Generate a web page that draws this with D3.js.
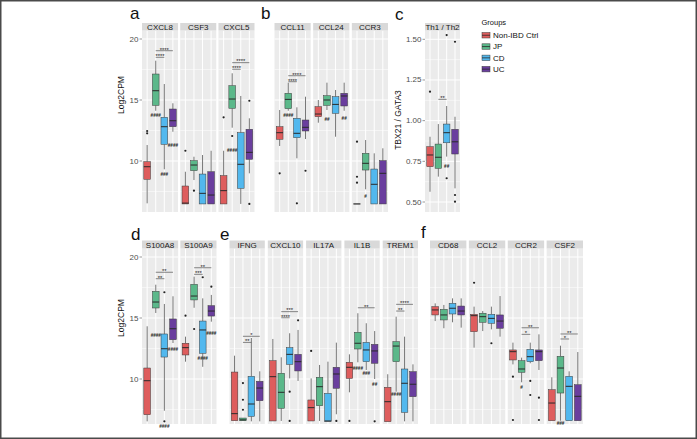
<!DOCTYPE html>
<html><head><meta charset="utf-8">
<script src="https://cdn.jsdelivr.net/npm/d3@7"></script>
<style>
body{margin:0;background:#fff}
svg{display:block}
text{font-family:"Liberation Sans",Arial,Helvetica,sans-serif}
</style>
</head><body>
<svg id="chart" width="697" height="439"></svg>
<script>
// ---------- groups ----------
const groupKeys = ["Ctrl","JP","CD","UC"];
const groupLabels = ["Non-IBD Ctrl","JP","CD","UC"];
const groupColors = ["#DE5D5D","#5BB88A","#52B8EE","#6A3E9E"];

// ---------- tick labels ----------
const ticksLog = [10,15,20];
const minorLog = [7.5,12.5,17.5];
const ticksRatio = [0.50,0.75,1.00,1.25,1.50];
const minorRatio = [0.625,0.875,1.125,1.375];

// ---------- panel a ----------
const genesA = ["CXCL8","CSF3","CXCL5"];
// [gene, group, lowerWhisker, q1, median, q3, upperWhisker]
const boxesA = [
 ["CXCL8","Ctrl",6.53,8.50,9.53,9.94,11.31],
 ["CXCL8","JP",14.12,14.56,15.76,17.13,18.22],
 ["CXCL8","CD",9.32,11.37,12.81,13.58,16.31],
 ["CXCL8","UC",12.40,12.81,13.30,14.26,14.73],
 ["CSF3","Ctrl",6.48,6.48,6.55,7.95,9.12],
 ["CSF3","JP",8.44,9.21,9.67,10.03,10.35],
 ["CSF3","CD",6.48,6.48,7.35,8.93,10.49],
 ["CSF3","UC",6.48,6.48,7.21,9.12,10.84],
 ["CXCL5","Ctrl",6.48,6.48,7.57,8.80,10.84],
 ["CXCL5","JP",12.73,14.32,15.08,16.17,17.19],
 ["CXCL5","CD",6.48,7.76,9.73,12.32,15.33],
 ["CXCL5","UC",8.99,10.14,10.71,12.60,13.50]
];
const outliersA = [["CXCL8","Ctrl",12.46],["CXCL8","Ctrl",12.27],["CSF3","Ctrl",10.84],["CSF3","JP",7.57],
 ["CXCL5","Ctrl",13.58],["CXCL5","JP",12.05],["CXCL5","UC",14.94],["CXCL5","UC",6.48]];
const hashesA = [["CXCL8","JP",13.69,"####"],["CXCL8","CD",8.91,"###"],["CXCL8","UC",11.25,"####"],["CXCL5","JP",10.84,"####"]];
const sigA = [["CXCL8","JP","UC",19.04,"****"],["CXCL8","JP","CD",18.5,"****"],["CXCL5","JP","UC",18.06,"****"],["CXCL5","JP","CD",17.52,"****"]];

// ---------- panel b ----------
const genesB = ["CCL11","CCL24","CCR3"];
const boxesB = [
 ["CCL11","Ctrl",11.23,11.78,12.32,12.81,14.18],
 ["CCL11","JP",14.12,14.29,15.05,15.55,16.42],
 ["CCL11","CD",10.22,11.91,12.27,13.50,14.40],
 ["CCL11","UC",11.80,12.46,12.76,13.36,15.27],
 ["CCL24","Ctrl",13.14,13.63,13.85,14.45,15.00],
 ["CCL24","JP",14.18,14.56,15.00,15.35,16.42],
 ["CCL24","CD",11.99,13.91,14.64,15.27,15.82],
 ["CCL24","UC",14.12,14.51,15.33,15.55,16.42],
 ["CCR3","Ctrl",6.48,6.48,6.48,6.48,6.48],
 ["CCR3","JP",7.68,9.26,9.81,10.63,11.72],
 ["CCR3","CD",6.48,6.48,8.09,9.34,10.63],
 ["CCR3","UC",6.48,6.48,8.99,10.03,11.04]
];
const outliersB = [["CCL11","Ctrl",8.99],["CCL11","CD",6.53],["CCL11","UC",9.2],["CCR3","Ctrl",11.58],["CCR3","Ctrl",8.71],["CCR3","Ctrl",8.22]];
const hashesB = [["CCL11","JP",13.69,"####"],["CCL24","JP",13.42,"##"],["CCL24","UC",13.5,"##"],["CCR3","JP",7.13,"#"]];
const sigB = [["CCL11","JP","UC",16.99,"****"],["CCL11","JP","CD",16.5,"****"]];

// ---------- panel c ----------
const genesC = ["Th1 / Th2"];
const boxesC = [
 ["Th1 / Th2","Ctrl",0.563,0.717,0.789,0.840,0.901],
 ["Th1 / Th2","JP",0.656,0.707,0.775,0.856,0.979],
 ["Th1 / Th2","CD",0.779,0.864,0.926,0.979,1.090],
 ["Th1 / Th2","UC",0.584,0.795,0.870,0.947,1.024]
];
const outliersC = [["Th1 / Th2","Ctrl",1.178],["Th1 / Th2","CD",1.526],["Th1 / Th2","CD",0.646],
 ["Th1 / Th2","UC",1.485],["Th1 / Th2","UC",0.543],["Th1 / Th2","UC",0.502]];
const hashesC = [["Th1 / Th2","CD",0.717,"##"]];
const sigC = [["Th1 / Th2","JP","CD",1.131,"**"]];

// ---------- panel d ----------
const genesD = ["S100A8","S100A9"];
const boxesD = [
 ["S100A8","Ctrl",6.53,7.07,9.86,10.90,14.32],
 ["S100A8","JP",15.41,15.82,16.31,17.19,17.73],
 ["S100A8","CD",7.40,11.80,12.48,13.69,16.15],
 ["S100A8","UC",12.95,13.22,14.12,14.92,16.78],
 ["S100A9","Ctrl",11.42,11.97,12.57,12.93,13.47],
 ["S100A9","JP",15.84,16.48,16.80,17.76,18.39],
 ["S100A9","CD",11.00,12.11,14.02,14.75,16.61],
 ["S100A9","UC",14.70,15.16,15.57,16.01,16.89]
];
const outliersD = [["S100A8","CD",6.53],["S100A8","CD",17.11],["S100A9","Ctrl",15.19],["S100A9","JP",14.10],["S100A9","CD",18.34],["S100A9","UC",17.57]];
const hashesD = [["S100A8","JP",13.58,"####"],["S100A8","CD",6.12,"####"],["S100A8","UC",12.38,"####"],["S100A9","CD",11.64,"####"],["S100A9","UC",13.75,"####"]];
const sigD = [["S100A8","JP","UC",18.75,"**"],["S100A8","JP","CD",18.22,"**"],["S100A9","JP","UC",19.12,"**"],["S100A9","JP","CD",18.58,"***"]];

// ---------- panel e ----------
const genesE = ["IFNG","CXCL10","IL17A","IL1B","TREM1"];
const boxesE = [
 ["IFNG","Ctrl",6.58,6.58,7.16,10.57,11.91],
 ["IFNG","JP",6.58,6.58,6.65,6.80,6.80],
 ["IFNG","CD",6.53,6.94,7.95,10.22,13.36],
 ["IFNG","UC",6.53,8.22,9.26,9.81,10.63],
 ["CXCL10","Ctrl",6.56,6.56,10.19,11.50,13.28],
 ["CXCL10","JP",6.56,7.60,8.91,10.47,11.78],
 ["CXCL10","CD",10.05,11.20,12.02,12.57,13.75],
 ["CXCL10","UC",9.84,10.66,11.42,12.02,14.02],
 ["IL17A","Ctrl",6.56,6.56,7.65,8.28,10.05],
 ["IL17A","JP",6.56,7.81,9.37,10.14,11.15],
 ["IL17A","CD",6.53,6.53,6.56,8.82,11.42],
 ["IL17A","UC",7.11,9.24,10.41,10.96,12.98],
 ["IL1B","Ctrl",8.91,10.05,10.96,11.37,12.02],
 ["IL1B","JP",11.37,12.46,12.93,13.83,15.39],
 ["IL1B","CD",10.74,11.42,12.38,13.00,14.57],
 ["IL1B","UC",10.00,11.29,12.30,12.84,13.93],
 ["TREM1","Ctrl",6.50,6.50,8.14,9.32,10.39],
 ["TREM1","JP",8.96,11.42,12.70,13.06,15.11],
 ["TREM1","CD",6.53,7.27,9.65,10.82,13.47],
 ["TREM1","UC",6.53,8.55,9.57,10.60,11.20]
];
const outliersE = [["IFNG","JP",9.67],["IFNG","JP",8.30],["IFNG","JP",7.48],["CXCL10","CD",8.96],["CXCL10","CD",6.56],
 ["CXCL10","UC",14.81],["IL17A","Ctrl",12.30],["IL17A","UC",6.56],["IL1B","Ctrl",6.56],["IL1B","UC",6.53]];
const hashesE = [["IL1B","JP",10.82,"####"],["IL1B","CD",10.47,"###"],["IL1B","UC",9.57,"##"],["TREM1","JP",8.69,"####"]];
const sigE = [["IFNG","JP","UC",13.5,"*"],["IFNG","JP","CD",13.0,"**"],["CXCL10","JP","UC",15.52,"***"],["CXCL10","JP","CD",15.02,"****"],
 ["IL1B","JP","UC",15.84,"**"],["TREM1","JP","UC",16.12,"****"],["TREM1","JP","CD",15.57,"**"]];

// ---------- panel f ----------
const genesF = ["CD68","CCL2","CCR2","CSF2"];
const boxesF = [
 ["CD68","Ctrl",14.75,15.25,15.66,15.93,16.20],
 ["CD68","JP",14.16,14.84,15.25,15.71,16.07],
 ["CD68","CD",14.65,15.33,15.80,16.20,16.61],
 ["CD68","UC",14.21,15.25,15.57,15.98,16.61],
 ["CCL2","Ctrl",12.57,13.88,15.19,15.30,15.93],
 ["CCL2","JP",13.93,14.65,15.11,15.39,15.57],
 ["CCL2","CD",14.07,14.57,14.97,15.30,15.93],
 ["CCL2","UC",13.47,14.16,14.75,15.25,16.80],
 ["CCR2","Ctrl",11.20,11.56,12.24,12.38,12.98],
 ["CCR2","JP",9.73,10.55,10.82,11.50,11.75],
 ["CCR2","CD",11.29,11.42,11.83,12.43,12.98],
 ["CCR2","UC",10.74,11.50,12.24,12.38,13.66],
 ["CSF2","Ctrl",6.58,6.58,8.03,9.12,10.14],
 ["CSF2","JP",6.58,8.85,10.90,11.86,12.73],
 ["CSF2","CD",6.58,6.58,9.40,10.22,10.63],
 ["CSF2","UC",6.58,6.58,8.58,9.53,12.21]
];
const outliersF = [["CCL2","Ctrl",17.89],["CCL2","CD",12.93],["CCR2","Ctrl",10.19],["CCR2","Ctrl",6.64],
 ["CCR2","CD",9.84],["CCR2","CD",8.69],["CCR2","UC",8.47],["CCR2","UC",6.64]];
const hashesF = [["CCR2","JP",9.29,"#"],["CSF2","JP",6.39,"###"]];
const sigF = [["CCR2","JP","UC",14.2,"**"],["CCR2","JP","CD",13.66,"*"],["CSF2","JP","UC",13.69,"**"],["CSF2","JP","CD",13.28,"*"]];

// ---------- drawing ----------
const svg = d3.select("#chart");
svg.append("rect").attr("width",697).attr("height",439).attr("fill","#fff");
const color = d3.scaleOrdinal().domain(groupKeys).range(groupColors);

function facetRanges(x0, x1, n, gap){
  const w = (x1 - x0 - gap*(n-1))/n;
  return d3.range(n).map(i => [x0 + i*(w+gap), x0 + i*(w+gap) + w]);
}

function drawPanel(p){
  const y = d3.scaleLinear().domain(p.yDomain).range(p.yRange);
  const g = svg.append("g");
  const ranges = facetRanges(p.x0, p.x1, p.genes.length, p.gap);
  p.genes.forEach((gene, i) => {
    const [fx0, fx1] = ranges[i];
    const x = d3.scalePoint().domain(groupKeys).range([fx0, fx1]).padding(0.6);
    const bw = x.step()*0.78;
    g.append("rect").attr("x",fx0).attr("y",p.top).attr("width",fx1-fx0).attr("height",p.bottom-p.top).attr("fill","#EBEBEB");
    p.minor.forEach(v => g.append("line").attr("x1",fx0).attr("x2",fx1).attr("y1",y(v)).attr("y2",y(v)).attr("stroke","#fff").attr("stroke-width",0.5));
    p.major.forEach(v => g.append("line").attr("x1",fx0).attr("x2",fx1).attr("y1",y(v)).attr("y2",y(v)).attr("stroke","#fff").attr("stroke-width",1));
    groupKeys.forEach(k => g.append("line").attr("x1",x(k)).attr("x2",x(k)).attr("y1",p.top).attr("y2",p.bottom).attr("stroke","#fff").attr("stroke-width",1));
    // strip
    g.append("rect").attr("x",fx0).attr("y",p.stripTop).attr("width",fx1-fx0).attr("height",p.top-p.stripTop).attr("fill","#D9D9D9");
    g.append("text").attr("x",(fx0+fx1)/2).attr("y",(p.stripTop+p.top)/2+0.5).attr("text-anchor","middle")
      .attr("dominant-baseline","central").attr("font-size",8).attr("fill","#1A1A1A").text(gene);
    // boxes
    p.boxes.filter(b => b[0]===gene).forEach(b => {
      const [, k, lo, q1, med, q3, hi] = b;
      const cx = x(k);
      g.append("line").attr("x1",cx).attr("x2",cx).attr("y1",y(hi)).attr("y2",y(q3)).attr("stroke","#555").attr("stroke-width",0.8);
      g.append("line").attr("x1",cx).attr("x2",cx).attr("y1",y(q1)).attr("y2",y(lo)).attr("stroke","#555").attr("stroke-width",0.8);
      g.append("rect").attr("x",cx-bw/2).attr("y",y(q3)).attr("width",bw).attr("height",Math.max(0.01,y(q1)-y(q3)))
        .attr("fill",color(k)).attr("stroke","#3a3a3a").attr("stroke-width",0.5);
      g.append("line").attr("x1",cx-bw/2).attr("x2",cx+bw/2).attr("y1",y(med)).attr("y2",y(med)).attr("stroke","#2a2a2a").attr("stroke-width",1);
    });
    p.outliers.filter(o => o[0]===gene).forEach(o => {
      g.append("circle").attr("cx",x(o[1])).attr("cy",y(o[2])).attr("r",1.1).attr("fill","#222");
    });
    p.hashes.filter(h => h[0]===gene).forEach(h => {
      g.append("text").attr("x",x(h[1])).attr("y",y(h[2])).attr("text-anchor","middle").attr("dominant-baseline","central")
        .attr("font-size",4.6).attr("font-weight","bold").attr("fill","#222").text(h[3]);
    });
    p.sig.filter(s => s[0]===gene).forEach(s => {
      const yy = y(s[3]);
      g.append("line").attr("x1",x(s[1])).attr("x2",x(s[2])).attr("y1",yy).attr("y2",yy).attr("stroke","#555").attr("stroke-width",0.7);
      g.append("text").attr("x",(x(s[1])+x(s[2]))/2).attr("y",yy+0.8).attr("text-anchor","middle")
        .attr("font-size",5.8).attr("fill","#222").text(s[4]);
    });
  });
  if (p.ticks){
    p.ticks.forEach(v => {
      g.append("line").attr("x1",p.x0-2.5).attr("x2",p.x0).attr("y1",y(v)).attr("y2",y(v)).attr("stroke","#333").attr("stroke-width",0.5);
      g.append("text").attr("x",p.x0-3.5).attr("y",y(v)).attr("text-anchor","end").attr("dominant-baseline","central")
        .attr("font-size",8).attr("fill","#4D4D4D").text(p.tickFmt(v));
    });
  }
  if (p.title){
    g.append("text").attr("transform",`translate(${p.titleX},${p.titleY}) rotate(-90)`).attr("text-anchor","middle")
      .attr("font-size",8.5).attr("fill","#111").text(p.title);
  }
  svg.append("text").attr("x",p.labelX).attr("y",p.labelY).attr("font-size",17).attr("fill","#111").text(p.label);
}

const fmtInt = d3.format("d"), fmt2 = d3.format(".2f");
const topRow = {top:30.5, bottom:212, stripTop:23};
const botRow = {top:248.5, bottom:424, stripTop:240.5};

drawPanel({...topRow, genes:genesA, boxes:boxesA, outliers:outliersA, hashes:hashesA, sig:sigA,
  x0:142, x1:254.5, gap:2.2, yDomain:[10,20], yRange:[161,39], major:ticksLog, minor:minorLog,
  ticks:ticksLog, tickFmt:fmtInt, title:"Log2CPM", titleX:124, titleY:95, label:"a", labelX:130, labelY:19});
drawPanel({...topRow, genes:genesB, boxes:boxesB, outliers:outliersB, hashes:hashesB, sig:sigB,
  x0:274.5, x1:388, gap:2.5, yDomain:[10,20], yRange:[161,39], major:ticksLog, minor:minorLog,
  label:"b", labelX:261, labelY:19});
drawPanel({...topRow, genes:genesC, boxes:boxesC, outliers:outliersC, hashes:hashesC, sig:sigC,
  x0:425, x1:460, gap:0, yDomain:[0.5,1.5], yRange:[202,39.3], major:ticksRatio, minor:minorRatio,
  ticks:ticksRatio, tickFmt:fmt2, title:"TBX21 / GATA3", titleX:401, titleY:120, label:"c", labelX:395, labelY:20});
drawPanel({...botRow, genes:genesD, boxes:boxesD, outliers:outliersD, hashes:hashesD, sig:sigD,
  x0:142, x1:216.5, gap:2.2, yDomain:[10,20], yRange:[379,257], major:ticksLog, minor:minorLog,
  ticks:ticksLog, tickFmt:fmtInt, title:"Log2CPM", titleX:124, titleY:318, label:"d", labelX:131, labelY:240});
drawPanel({...botRow, genes:genesE, boxes:boxesE, outliers:outliersE, hashes:hashesE, sig:sigE,
  x0:229.5, x1:418, gap:3, yDomain:[10,20], yRange:[379,257], major:ticksLog, minor:minorLog,
  label:"e", labelX:220, labelY:240});
drawPanel({...botRow, genes:genesF, boxes:boxesF, outliers:outliersF, hashes:hashesF, sig:sigF,
  x0:430, x1:583, gap:2.5, yDomain:[10,20], yRange:[379,257], major:ticksLog, minor:minorLog,
  label:"f", labelX:421, labelY:238});

// legend
const lg = svg.append("g").attr("transform","translate(481.5,0)");
lg.append("text").attr("x",0).attr("y",25).attr("font-size",7.5).attr("fill","#111").text("Groups");
groupKeys.forEach((k,i) => {
  const yy = 32.5 + i*11.3;
  lg.append("rect").attr("x",0.5).attr("y",yy).attr("width",8).attr("height",5.5).attr("fill",color(k)).attr("stroke","#3a3a3a").attr("stroke-width",0.5);
  lg.append("line").attr("x1",0.5).attr("x2",8.5).attr("y1",yy+2.75).attr("y2",yy+2.75).attr("stroke","#2a2a2a").attr("stroke-width",0.8);
  lg.append("text").attr("x",11.5).attr("y",yy+2.9).attr("dominant-baseline","central").attr("font-size",8).attr("fill","#111").text(groupLabels[i]);
});

// outer frame
svg.append("rect").attr("x",0.75).attr("y",0.75).attr("width",695.5).attr("height",437.5).attr("fill","none").attr("stroke","#4a4a4a").attr("stroke-width",1.5);
</script>
</body></html>
